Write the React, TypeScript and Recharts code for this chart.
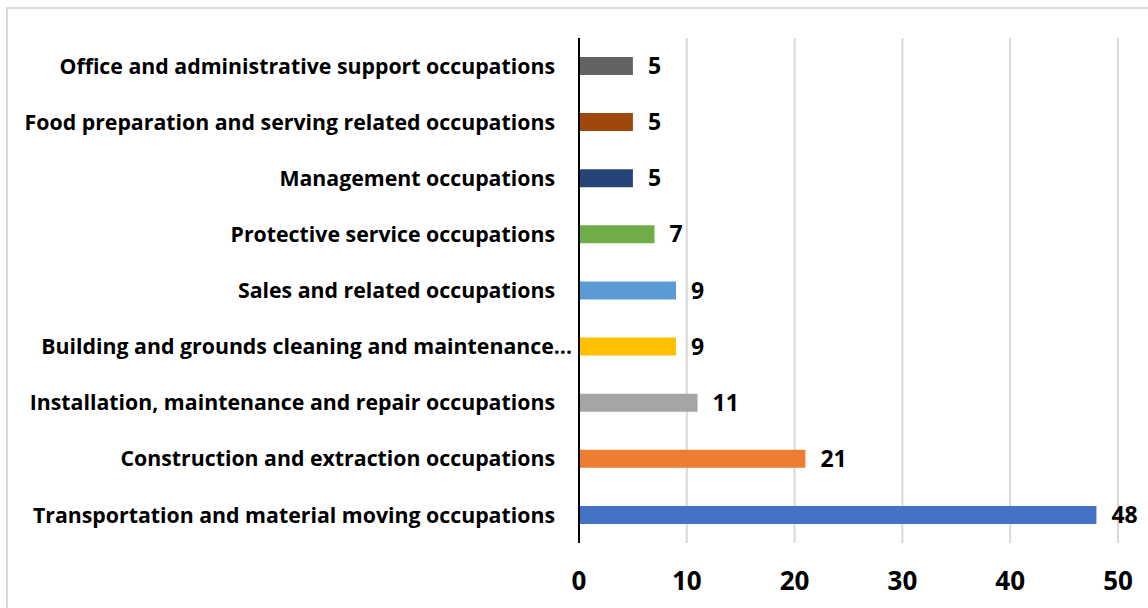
import React from 'react';
import { BarChart, Bar, XAxis, YAxis, CartesianGrid, LabelList, Cell } from 'recharts';

const categories = [
  'Office and administrative support occupations',
  'Food preparation and serving related occupations',
  'Management occupations',
  'Protective service occupations',
  'Sales and related occupations',
  'Building and grounds cleaning and maintenance...',
  'Installation, maintenance and repair occupations',
  'Construction and extraction occupations',
  'Transportation and material moving occupations',
];
const values = [5, 5, 5, 7, 9, 9, 11, 21, 48];
const colors = ['#636363', '#9E480E', '#264478', '#70AD47', '#5B9BD5', '#FFC000', '#A5A5A5', '#ED7D31', '#4472C4'];
const xTicks = [0, 10, 20, 30, 40, 50];

const data = categories.map((name, i) => ({ name, value: values[i] }));

const FONT = '"Open Sans", "Noto Sans", sans-serif';

const CategoryTick = (props: any) => {
  const { x, y, payload } = props;
  const label = String(payload.value);
  const truncated = label.endsWith('...');
  return (
    <text
      x={x + (truncated ? 17 : 0)}
      y={y}
      dy="0.355em"
      textAnchor="end"
      fill="#000"
      fontSize={21.3}
      fontWeight={700}
      fontFamily={FONT}
    >
      {label}
    </text>
  );
};

export default function App() {
  return (
    <div style={{ position: 'fixed', left: 0, top: 0, width: 1148, height: 608, overflow: 'hidden', background: '#fff' }}>
      <div style={{ position: 'absolute', left: 6, top: 7, width: 1200, height: 700, border: '2px solid #d9d9d9', boxSizing: 'border-box' }} />
      <div style={{ position: 'absolute', left: 0, top: 0 }}>
        <BarChart
          width={1148}
          height={608}
          layout="vertical"
          data={data}
          margin={{ top: 38, right: 30, bottom: 0, left: 0 }}
          barCategoryGap={19}
        >
          <CartesianGrid horizontal={false} stroke="#d9d9d9" strokeWidth={2} />
          <XAxis
            type="number"
            domain={[0, 50]}
            ticks={xTicks}
            axisLine={false}
            tickLine={false}
            tickSize={0}
            tickMargin={29}
            height={65}
            interval={0}
            tick={{ fill: '#000', fontSize: 26, fontWeight: 700, fontFamily: FONT }}
          />
          <YAxis
            type="category"
            dataKey="name"
            width={579}
            axisLine={{ stroke: '#000', strokeWidth: 2 }}
            tickLine={false}
            tickSize={0}
            tickMargin={24}
            interval={0}
            tick={<CategoryTick />}
          />
          <Bar dataKey="value" barSize={18} isAnimationActive={false}>
            {data.map((d, i) => (
              <Cell key={d.name} fill={colors[i]} />
            ))}
            <LabelList
              dataKey="value"
              position="right"
              offset={15}
              style={{ fill: '#000', fontSize: 23, fontWeight: 700, fontFamily: FONT }}
            />
          </Bar>
        </BarChart>
      </div>
    </div>
  );
}
